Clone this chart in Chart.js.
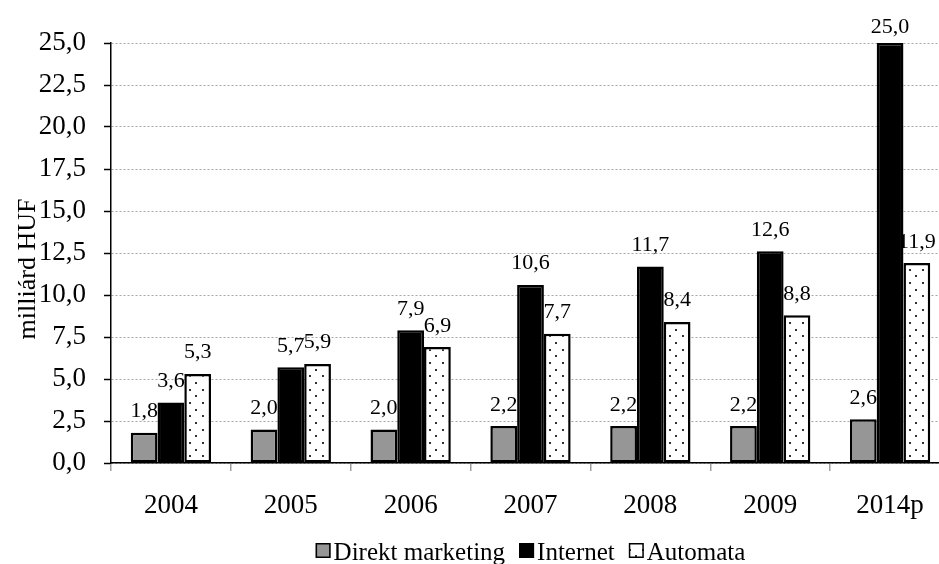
<!DOCTYPE html>
<html>
<head>
<meta charset="utf-8">
<title>Direkt marketing, Internet, Automata</title>
<script src="https://cdn.jsdelivr.net/npm/chart.js@4/dist/chart.umd.min.js"></script>
<style>
  html, body { margin: 0; padding: 0; background: #fff; overflow: hidden; }
  #wrap { width: 955px; height: 564px; }
</style>
</head>
<body>
<div id="wrap"><canvas id="salesChart" width="955" height="564"></canvas></div>
<script>
const categories = ['2004', '2005', '2006', '2007', '2008', '2009', '2014p'];
const seriesNames = ['Direkt marketing', 'Internet', 'Automata'];
const direktMarketing = [1.8, 2.0, 2.0, 2.2, 2.2, 2.2, 2.6];
const internet = [3.6, 5.7, 7.9, 10.6, 11.7, 12.6, 25.0];
const automata = [5.3, 5.9, 6.9, 7.7, 8.4, 8.8, 11.9];
const yMin = 0;
const yMax = 25;
const yStep = 2.5;
const yTitle = 'milliárd HUF';

// series are painted in this order (Internet last, on top)
const paintOrder = [0, 2, 1];

const FONT = "'Liberation Serif', 'Times New Roman', serif";

// Hungarian number format: one decimal, comma separator
function huNum(v) {
    return v.toFixed(1).replace('.', ',');
}

// white fill with a sparse staggered dot grid
function makeDotPattern() {
    const tile = document.createElement('canvas');
    const step = 40 / 3;
    tile.width = 40;
    tile.height = 40;
    const c = tile.getContext('2d');
    c.fillStyle = '#fff';
    c.fillRect(0, 0, 40, 40);
    c.fillStyle = '#333';
    for (let i = 0; i < 3; i++) {
        for (let j = 0; j < 3; j++) {
            c.fillRect(Math.round(i * step + 2), Math.round(j * step + 2), 2, 2);
            c.fillRect(Math.round(i * step + 2 + step / 2), Math.round(j * step + 2 + step / 2), 2, 2);
        }
    }
    return c.createPattern(tile, 'repeat');
}

const dotPattern = makeDotPattern();
const fills = ['#969696', '#000000', dotPattern];

// draw the series one after another, each followed by its value labels,
// so later series' bars sit on top of earlier labels
const seriesDrawPlugin = {
    id: 'seriesDraw',
    beforeDatasetsDraw(chart) {
        const ctx = chart.ctx;
        paintOrder.forEach(i => {
            const ds = chart.data.datasets[i];
            const meta = chart.getDatasetMeta(i);
            meta.controller.draw();
            ctx.save();
            ctx.font = '22px ' + FONT;
            ctx.fillStyle = '#000';
            ctx.textAlign = 'center';
            ctx.textBaseline = 'alphabetic';
            meta.data.forEach((bar, j) => {
                const y = Math.max(bar.y - 15.5, 33);
                ctx.fillText(huNum(ds.data[j]), bar.x, y);
            });
            ctx.restore();
        });
        return false;
    },
    afterDraw(chart) {
        const ctx = chart.ctx;
        const area = chart.chartArea;

        // rotated axis title
        ctx.save();
        ctx.translate(35, (area.top + area.bottom) / 2 + 16);
        ctx.rotate(-Math.PI / 2);
        ctx.font = '26px ' + FONT;
        ctx.fillStyle = '#000';
        ctx.textAlign = 'center';
        ctx.textBaseline = 'alphabetic';
        ctx.fillText(yTitle, 0, 0);
        ctx.restore();

        // legend row along the bottom
        ctx.save();
        ctx.font = '25px ' + FONT;
        const box = 15, gapText = 3, gapItem = 14;
        const widths = seriesNames.map(n => ctx.measureText(n).width);
        let total = 0;
        widths.forEach((w, i) => { total += box + gapText + w + (i < widths.length - 1 ? gapItem : 0); });
        let x = (area.left + area.right) / 2 - total / 2;
        const boxTop = chart.height - 21;
        const baseline = chart.height - 4;
        seriesNames.forEach((name, i) => {
            ctx.fillStyle = fills[i];
            ctx.fillRect(x, boxTop, box, box);
            ctx.lineWidth = 1.5;
            ctx.strokeStyle = '#000';
            ctx.strokeRect(x + 0.75, boxTop + 0.75, box - 1.5, box - 1.5);
            ctx.fillStyle = '#000';
            ctx.textBaseline = 'alphabetic';
            ctx.fillText(name, x + box + gapText, baseline);
            x += box + gapText + widths[i] + gapItem;
        });
        ctx.restore();
    }
};

const seriesData = [direktMarketing, internet, automata];

new Chart(document.getElementById('salesChart'), {
    type: 'bar',
    data: {
        labels: categories,
        datasets: seriesNames.map((name, i) => ({
            label: name,
            data: seriesData[i],
            backgroundColor: fills[i],
            borderColor: '#000',
            borderWidth: 2.5,
            borderSkipped: false,
            categoryPercentage: 0.67,
            barPercentage: 1.0
        }))
    },
    options: {
        responsive: false,
        animation: false,
        events: [],
        layout: { padding: { top: 43, right: 5, bottom: 41, left: 0 } },
        plugins: {
            legend: { display: false },
            tooltip: { enabled: false },
            title: { display: false }
        },
        scales: {
            x: {
                grid: {
                    offset: true,
                    drawOnChartArea: false,
                    drawTicks: true,
                    tickLength: 8,
                    color: '#a0a0a0',
                    lineWidth: 1.5
                },
                border: { color: '#000', width: 1.5 },
                ticks: {
                    color: '#000',
                    font: { family: FONT, size: 27 },
                    padding: 19,
                    maxRotation: 0,
                    autoSkip: false
                },
                afterFit(scale) { scale.height = 60; }
            },
            y: {
                min: yMin,
                max: yMax,
                grid: {
                    color: '#a6a6a6',
                    lineWidth: 1,
                    tickColor: '#000',
                    tickLength: 7,
                    tickWidth: 1.5,
                    tickBorderDash: []
                },
                border: { color: '#000', width: 1.5, dash: [2, 2] },
                ticks: {
                    stepSize: yStep,
                    color: '#000',
                    font: { family: FONT, size: 27 },
                    padding: 18,
                    callback: v => huNum(v)
                },
                afterFit(scale) { scale.width = 111; }
            }
        }
    },
    plugins: [seriesDrawPlugin]
});
</script>
</body>
</html>
